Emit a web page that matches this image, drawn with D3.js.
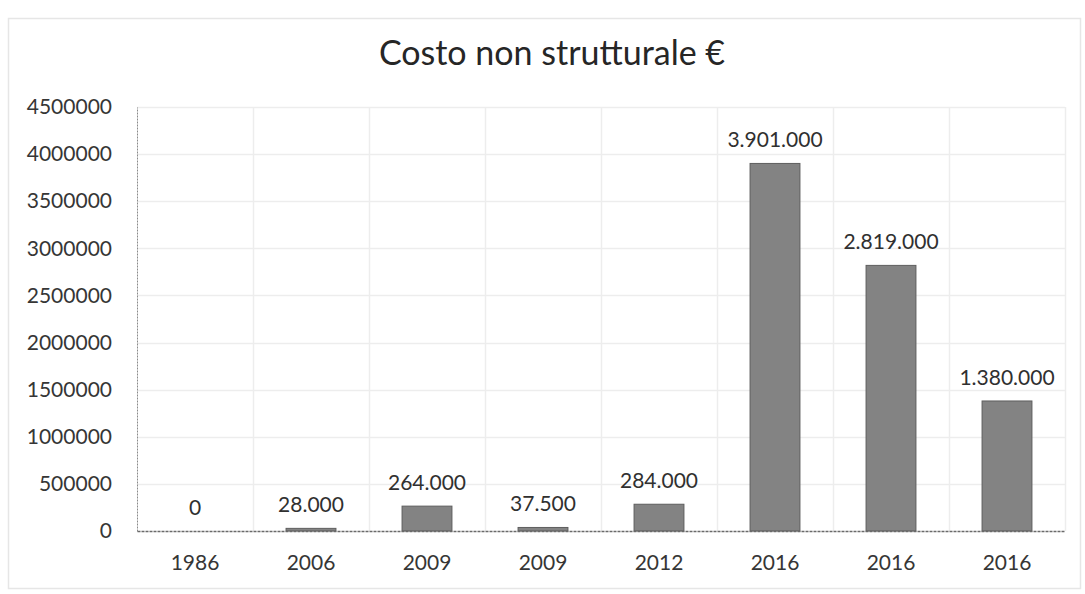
<!DOCTYPE html>
<html>
<head>
<meta charset="utf-8">
<script src="https://cdn.jsdelivr.net/npm/d3@7/dist/d3.min.js"></script>
<style>
  html, body { margin: 0; padding: 0; background: #fff; }
  svg { display: block; }
</style>
</head>
<body>
<svg id="chart" width="1085" height="594"></svg>
<script>
// Chart data
const title = "Costo non strutturale €";
const years = ["1986", "2006", "2009", "2009", "2012", "2016", "2016", "2016"];
const costs = [0, 28000, 264000, 37500, 284000, 3901000, 2819000, 1380000];
const yTicks = [0, 500000, 1000000, 1500000, 2000000, 2500000, 3000000, 3500000, 4000000, 4500000];

const W = 1085, H = 594;
const margin = { top: 107, right: 20, bottom: 63, left: 137 };
const plotW = 1065 - margin.left;
const plotH = 531 - margin.top;
const FONT = "Lato, 'Open Sans', sans-serif";

const svg = d3.select("#chart");

// faint outer frame
svg.append("rect")
  .attr("x", 8.5).attr("y", 18.5)
  .attr("width", 1072).attr("height", 570)
  .attr("fill", "none").attr("stroke", "#e6e6e6").attr("stroke-width", 1.5);

// title
svg.append("text")
  .attr("x", 552).attr("y", 65)
  .attr("text-anchor", "middle")
  .attr("font-family", FONT).attr("font-size", 34)
  .attr("fill", "#262626")
  .text(title);

const g = svg.append("g").attr("transform", `translate(${margin.left},${margin.top})`);

const idx = years.map((_, i) => i);
const x = d3.scaleBand().domain(idx).range([0, plotW]).paddingInner(0.57).paddingOuter(0.285);
const y = d3.scaleLinear().domain([0, 4500000]).range([plotH, 0]);

// horizontal gridlines
g.append("g")
  .selectAll("line").data(yTicks.slice(1)).join("line")
  .attr("x1", 0).attr("x2", plotW)
  .attr("y1", d => Math.round(y(d)) + 0.5).attr("y2", d => Math.round(y(d)) + 0.5)
  .attr("stroke", "#ededed").attr("stroke-width", 1.5);

// vertical gridlines between categories
const step = plotW / years.length;
g.append("g")
  .selectAll("line").data(d3.range(1, years.length + 1)).join("line")
  .attr("x1", d => Math.round(d * step) + 0.5).attr("x2", d => Math.round(d * step) + 0.5)
  .attr("y1", 0).attr("y2", plotH)
  .attr("stroke", "#ededed").attr("stroke-width", 1.5);

// y axis
const yAxis = g.append("g")
  .call(d3.axisLeft(y).tickValues(yTicks).tickFormat(d3.format("d")).tickSize(0).tickPadding(25));
yAxis.select(".domain").attr("stroke", "#8a8a8a").attr("stroke-dasharray", "2,1");
yAxis.selectAll("text")
  .attr("font-family", FONT).attr("font-size", 21).attr("fill", "#363636");

// bars
g.append("g")
  .selectAll("rect").data(costs).join("rect")
  .attr("x", (d, i) => x(i))
  .attr("y", d => y(d))
  .attr("width", x.bandwidth())
  .attr("height", d => plotH - y(d))
  .attr("fill", "#838383")
  .attr("stroke", "#5e5e5e")
  .attr("stroke-width", 1);

// value labels
const itFmt = d3.formatLocale({ decimal: ",", thousands: ".", grouping: [3], currency: ["", " €"] }).format(",d");
g.append("g")
  .selectAll("text").data(costs).join("text")
  .attr("x", (d, i) => x(i) + x.bandwidth() / 2)
  .attr("y", d => y(d) - 16)
  .attr("text-anchor", "middle")
  .attr("font-family", FONT).attr("font-size", 21).attr("fill", "#303030")
  .text(d => itFmt(d));

// x axis
const xAxis = g.append("g")
  .attr("transform", `translate(0,${plotH})`)
  .call(d3.axisBottom(x).tickFormat(i => years[i]).tickSize(0).tickPadding(24));
xAxis.select(".domain").attr("stroke", "#6a6a6a").attr("stroke-width", 1.5).attr("stroke-dasharray", "3,1");
xAxis.selectAll("text")
  .attr("font-family", FONT).attr("font-size", 21).attr("fill", "#363636");
</script>
</body>
</html>
